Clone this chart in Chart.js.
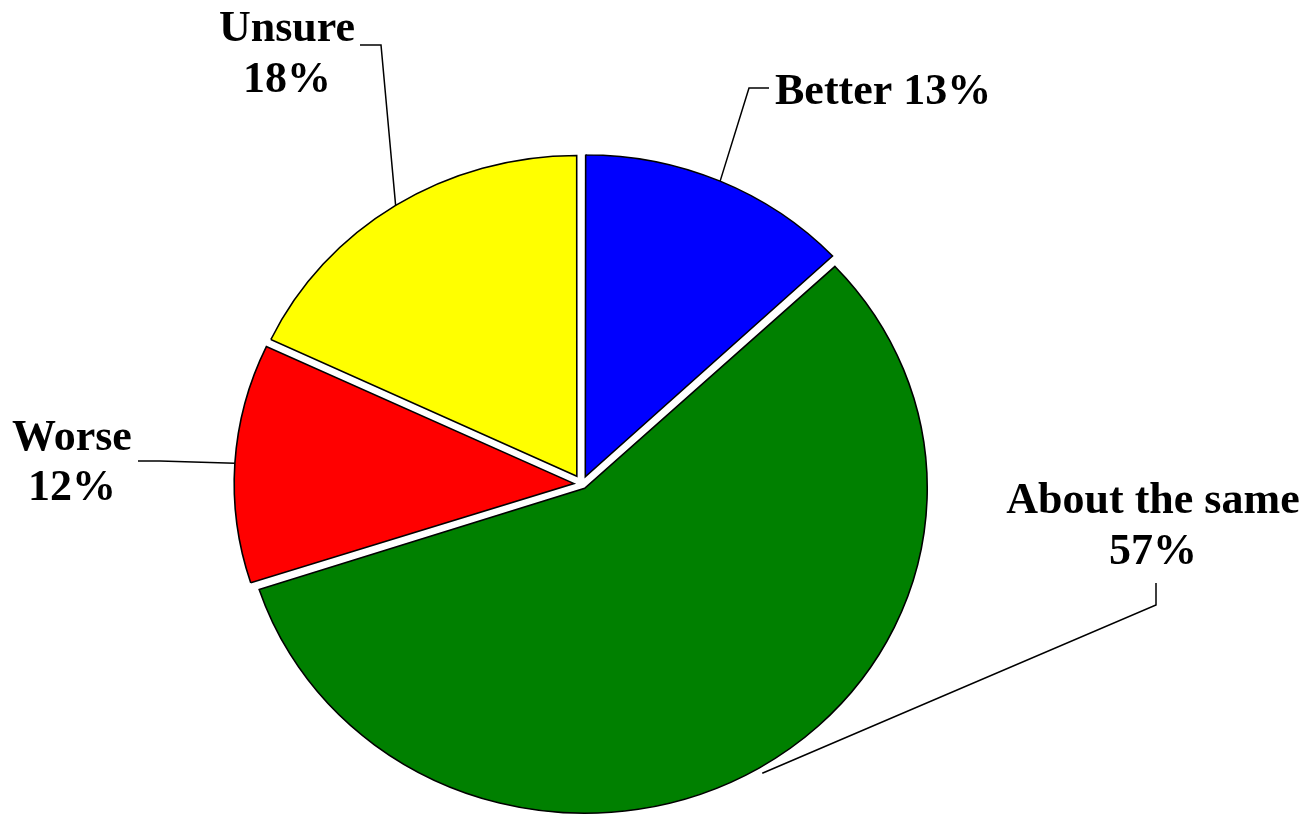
<!DOCTYPE html>
<html>
<head>
<meta charset="utf-8">
<script src="https://cdn.jsdelivr.net/npm/chart.js@4/dist/chart.umd.min.js"></script>
<style>
    html, body { margin: 0; padding: 0; background: #ffffff; }
    #wrap { width: 1307px; height: 815px; position: relative; }
</style>
</head>
<body>
<div id="wrap"><canvas id="pie"></canvas></div>
<script>
// ========================================
// Data
// ========================================
const categories = ['Better', 'About the same', 'Worse', 'Unsure'];
const percents = [13, 57, 12, 18];
const sliceColors = ['#0000ff', '#008000', '#ff0000', '#ffff00'];

// ========================================
// Layout
// ========================================
const RADIUS = 320;      // vertical radius
const STRETCH_X = 1.054; // pie is a little wider than tall
const EXPLODE = 10;      // gap each slice is pulled out
const LABEL_FONT = 'bold 44px "Liberation Serif", "Times New Roman", serif';

// leader elbow / end points and text anchors, one per category
const labelLayout = [
    { single: true,  elbow: [749, 88],   end: [769, 88],   x: 775,  align: 'left',   base: [104] },
    { single: false, elbow: [1156, 605], end: [1156, 583], x: 1153, align: 'center', base: [513, 564] },
    { single: false, elbow: [160, 461],  end: [138, 461],  x: 72,   align: 'center', base: [450, 500] },
    { single: false, elbow: [381, 45],   end: [360, 45],   x: 287,  align: 'center', base: [41, 92] }
];
const leaderGap = [0, 6, 0, 0];

// chart.js v4 moves an arc by offset/4 * (2 - sin(circumference))
function offsetFor(pct) {
    const circ = pct / 100 * Math.PI * 2;
    return EXPLODE * 4 / (2 - Math.sin(Math.min(Math.PI, circ)));
}

// ========================================
// Plugins
// ========================================
const stretchPlugin = {
    id: 'stretch',
    beforeDatasetsDraw(chart) {
        const arc = chart.getDatasetMeta(0).data[0];
        const ctx = chart.ctx;
        ctx.save();
        ctx.translate(arc.x, 0);
        ctx.scale(STRETCH_X, 1);
        ctx.translate(-arc.x, 0);
    },
    afterDatasetsDraw(chart) {
        chart.ctx.restore();
    }
};

const labelPlugin = {
    id: 'leaderLabels',
    afterDraw(chart) {
        const ctx = chart.ctx;
        const arcs = chart.getDatasetMeta(0).data;
        ctx.save();
        ctx.strokeStyle = '#000';
        ctx.lineWidth = 1.5;
        ctx.fillStyle = '#000';
        ctx.font = LABEL_FONT;
        arcs.forEach((arc, i) => {
            const lay = labelLayout[i];
            const mid = (arc.startAngle + arc.endAngle) / 2;
            const r = arc.outerRadius + EXPLODE + leaderGap[i];
            const sx = arc.x + Math.cos(mid) * r * STRETCH_X;
            const sy = arc.y + Math.sin(mid) * r;

            ctx.beginPath();
            ctx.moveTo(sx, sy);
            ctx.lineTo(lay.elbow[0], lay.elbow[1]);
            ctx.lineTo(lay.end[0], lay.end[1]);
            ctx.stroke();

            ctx.textAlign = lay.align;
            ctx.textBaseline = 'alphabetic';
            const lines = lay.single
                ? [categories[i] + ' ' + percents[i] + '%']
                : [categories[i], percents[i] + '%'];
            lines.forEach((t, k) => ctx.fillText(t, lay.x, lay.base[k]));
        });
        ctx.restore();
    }
};

// ========================================
// Chart
// ========================================
new Chart(document.getElementById('pie'), {
    type: 'pie',
    data: {
        labels: categories,
        datasets: [{
            data: percents,
            backgroundColor: sliceColors,
            borderColor: '#000000',
            borderWidth: 1.5,
            borderJoinStyle: 'miter',
            offset: percents.map(offsetFor),
            hoverOffset: 0
        }]
    },
    options: {
        responsive: true,
        maintainAspectRatio: false,
        animation: false,
        radius: RADIUS,
        layout: { padding: { left: 0, right: 143, top: 153, bottom: 0 } },
        plugins: {
            legend: { display: false },
            tooltip: { enabled: false }
        },
        events: []
    },
    plugins: [stretchPlugin, labelPlugin]
});
</script>
</body>
</html>
